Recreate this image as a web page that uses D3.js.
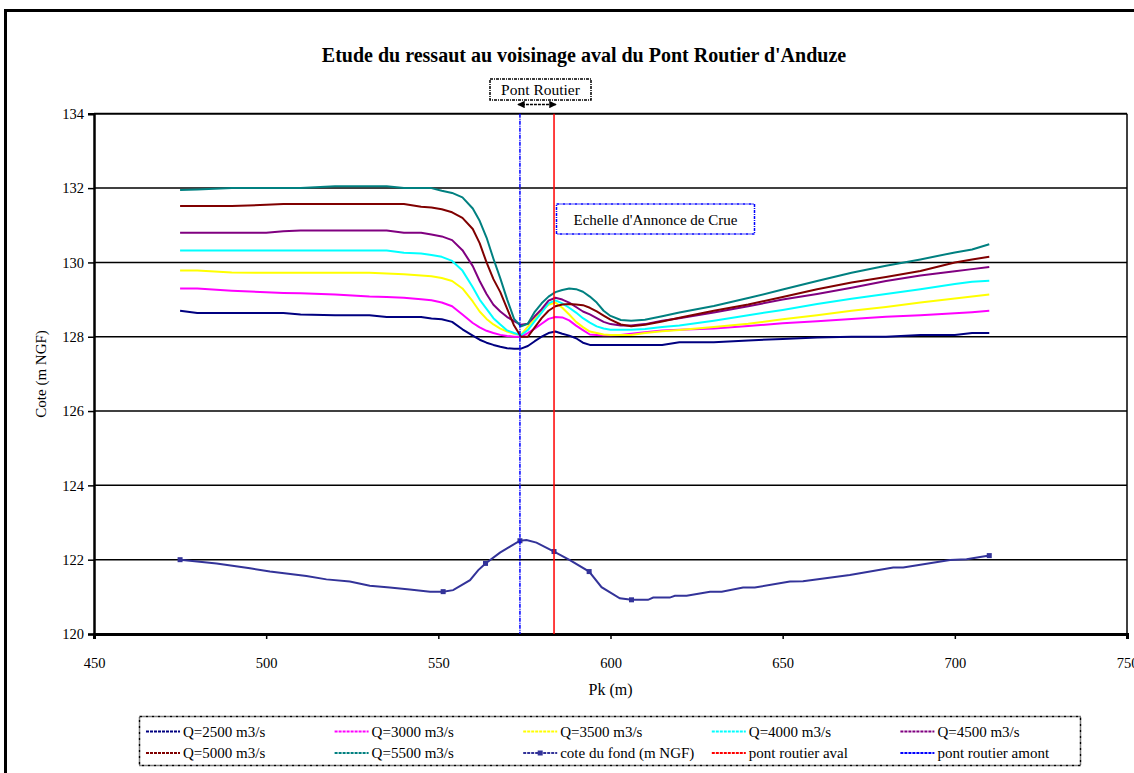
<!DOCTYPE html>
<html>
<head>
<meta charset="utf-8">
<script src="https://cdn.jsdelivr.net/npm/d3@7"></script>
<style>
  html, body { margin: 0; padding: 0; background: #fff; }
  svg { display: block; }
  text { font-family: "Liberation Serif", "DejaVu Serif", serif; fill: #000; }
</style>
</head>
<body>
<svg id="chart" width="1134" height="773"></svg>
<script>
// Abscisses (Pk, m) des points de calcul de la ligne d'eau
const pk = [475, 480, 490, 500, 505, 510, 520, 530, 535, 540, 545, 548, 551, 554, 557, 560, 562, 564, 566, 568,
            570, 572, 574, 576, 578, 580, 582, 584, 586, 588, 590, 592, 594, 596, 598, 600, 603, 606, 610, 615,
            620, 630, 640, 650, 660, 670, 680, 690, 700, 705, 710];

// Lignes d'eau (m NGF) par débit
const q2500 = [128.70, 128.64, 128.64, 128.64, 128.64, 128.60, 128.58, 128.58, 128.53, 128.53, 128.53, 128.49, 128.47, 128.40, 128.20, 128.03, 127.92, 127.84, 127.78, 127.73,
               127.69, 127.68, 127.68, 127.75, 127.88, 128.00, 128.10, 128.14, 128.08, 128.03, 127.96, 127.84, 127.78, 127.78, 127.78, 127.78, 127.78, 127.78, 127.78, 127.78,
               127.85, 127.85, 127.90, 127.94, 127.98, 128.00, 128.00, 128.05, 128.05, 128.10, 128.10];
const q3000 = [129.30, 129.30, 129.24, 129.20, 129.18, 129.17, 129.14, 129.08, 129.07, 129.05, 129.01, 128.98, 128.92, 128.82, 128.60, 128.37, 128.25, 128.16, 128.10, 128.05,
               128.02, 128.00, 128.00, 128.10, 128.22, 128.35, 128.48, 128.53, 128.52, 128.44, 128.30, 128.18, 128.06, 128.05, 128.04, 128.04, 128.05, 128.08, 128.12, 128.17,
               128.19, 128.22, 128.29, 128.36, 128.42, 128.48, 128.54, 128.58, 128.63, 128.66, 128.70];
const q3500 = [129.78, 129.78, 129.73, 129.72, 129.72, 129.72, 129.72, 129.72, 129.70, 129.68, 129.65, 129.63, 129.58, 129.50, 129.30, 128.95, 128.68, 128.48, 128.33, 128.22,
               128.14, 128.08, 128.05, 128.27, 128.48, 128.70, 128.86, 128.92, 128.78, 128.60, 128.40, 128.26, 128.14, 128.10, 128.06, 128.05, 128.05, 128.05, 128.10, 128.15,
               128.18, 128.26, 128.35, 128.47, 128.58, 128.70, 128.80, 128.92, 129.03, 129.08, 129.14];
const q4000 = [130.32, 130.32, 130.32, 130.32, 130.32, 130.32, 130.32, 130.32, 130.32, 130.26, 130.24, 130.20, 130.15, 130.04, 129.78, 129.33, 129.00, 128.75, 128.50, 128.33,
               128.17, 128.10, 128.04, 128.18, 128.42, 128.65, 128.90, 128.98, 128.90, 128.78, 128.65, 128.50, 128.38, 128.28, 128.22, 128.19, 128.19, 128.19, 128.21, 128.26,
               128.30, 128.43, 128.58, 128.72, 128.88, 129.02, 129.15, 129.28, 129.42, 129.48, 129.51];
const q4500 = [130.80, 130.80, 130.80, 130.80, 130.84, 130.86, 130.86, 130.86, 130.86, 130.80, 130.80, 130.75, 130.70, 130.60, 130.33, 129.90, 129.50, 129.15, 128.86, 128.68,
               128.53, 128.42, 128.32, 128.35, 128.55, 128.74, 128.97, 129.05, 129.00, 128.92, 128.80, 128.68, 128.60, 128.50, 128.40, 128.34, 128.30, 128.30, 128.34, 128.43,
               128.50, 128.65, 128.82, 129.00, 129.15, 129.32, 129.50, 129.65, 129.76, 129.82, 129.88];
const q5000 = [131.52, 131.52, 131.52, 131.55, 131.57, 131.57, 131.57, 131.57, 131.57, 131.57, 131.50, 131.48, 131.43, 131.35, 131.20, 130.90, 130.52, 130.00, 129.55, 129.20,
               128.75, 128.30, 128.00, 128.00, 128.25, 128.50, 128.70, 128.82, 128.87, 128.88, 128.87, 128.85, 128.78, 128.68, 128.57, 128.46, 128.33, 128.28, 128.32, 128.41,
               128.51, 128.70, 128.87, 129.07, 129.28, 129.46, 129.61, 129.77, 130.00, 130.08, 130.15];
const q5500 = [131.95, 131.96, 132.00, 132.00, 132.00, 132.00, 132.05, 132.05, 132.05, 132.00, 132.00, 132.00, 131.93, 131.87, 131.75, 131.45, 131.12, 130.67, 130.10, 129.57,
               129.00, 128.48, 128.28, 128.35, 128.67, 128.90, 129.08, 129.20, 129.26, 129.30, 129.28, 129.21, 129.08, 128.92, 128.70, 128.56, 128.45, 128.43, 128.46, 128.55,
               128.65, 128.83, 129.04, 129.27, 129.50, 129.72, 129.91, 130.08, 130.27, 130.35, 130.49];

// Profil en long du fond du lit
const pkFond = [475, 485.6, 495.3, 501.1, 511.7, 517.5, 524.3, 530.1, 535.9, 541.7, 547.6, 551.4, 554.3, 559.2, 561.6, 563.7,
                567.9, 570.8, 573.7, 575.6, 578.5, 583.6, 588.2, 593.8, 597.4, 602.7, 606.1, 610.9, 612.4, 617.2, 618.7, 622.1,
                628.9, 632.3, 638.5, 641.9, 652.1, 655.9, 669.5, 682.1, 685, 698.6, 703.4, 710];
const zFond = [122.00, 121.90, 121.77, 121.68, 121.56, 121.47, 121.41, 121.30, 121.25, 121.20, 121.14, 121.14, 121.18, 121.45, 121.72, 121.90,
               122.19, 122.35, 122.51, 122.53, 122.46, 122.22, 121.99, 121.68, 121.26, 120.96, 120.92, 120.92, 120.98, 120.98, 121.03, 121.03,
               121.14, 121.14, 121.25, 121.25, 121.41, 121.42, 121.59, 121.79, 121.79, 121.99, 122.01, 122.11];
// Profils relevés (points marqués)
const pkProfils = [475, 551.4, 563.7, 573.7, 583.6, 593.8, 606.1, 710];

// Position des ponts
const pkPontAmont = 573.7;
const pkPontAval = 583.6;

// Axes
const xTicks = [450, 500, 550, 600, 650, 700, 750];
const yTicks = [120, 122, 124, 126, 128, 130, 132, 134];

const legendLabels = ["Q=2500 m3/s", "Q=3000 m3/s", "Q=3500 m3/s", "Q=4000 m3/s", "Q=4500 m3/s",
                      "Q=5000 m3/s", "Q=5500 m3/s", "cote du fond (m NGF)", "pont routier aval", "pont routier amont"];

const waterSeries = [
  { label: legendLabels[0], values: q2500, color: "#000080" },
  { label: legendLabels[1], values: q3000, color: "#FF00FF" },
  { label: legendLabels[2], values: q3500, color: "#FFFF00" },
  { label: legendLabels[3], values: q4000, color: "#00FFFF" },
  { label: legendLabels[4], values: q4500, color: "#800080" },
  { label: legendLabels[5], values: q5000, color: "#800000" },
  { label: legendLabels[6], values: q5500, color: "#008080" }
];
const fondColor = "#333399";

const svg = d3.select("#chart");

// Cadre général
svg.append("rect")
  .attr("x", 5.5).attr("y", 10.5).attr("width", 1140).attr("height", 780)
  .attr("fill", "none").attr("stroke", "#000").attr("stroke-width", 3);

const x = d3.scaleLinear().domain([450, 750]).range([94, 1127]);
const y = d3.scaleLinear().domain([120, 134]).range([634, 113.8]);

// Quadrillage horizontal
svg.append("g")
  .selectAll("line")
  .data(yTicks.filter(v => v > 120))
  .join("line")
  .attr("x1", x(450)).attr("x2", x(750))
  .attr("y1", d => y(d)).attr("y2", d => y(d))
  .attr("stroke", "#000").attr("stroke-width", d => d === 134 ? 2 : 1.5);

// Bord droit de la zone de tracé
svg.append("line")
  .attr("x1", x(750)).attr("x2", x(750)).attr("y1", y(134)).attr("y2", y(120))
  .attr("stroke", "#000").attr("stroke-width", 1.5);

// Axe Y
const yAxis = svg.append("g")
  .attr("transform", `translate(${x(450)},0)`)
  .call(d3.axisLeft(y).tickValues(yTicks).tickSize(6).tickPadding(4).tickFormat(d3.format("d")));
yAxis.select(".domain").attr("stroke-width", 2.5);
yAxis.selectAll(".tick line").attr("stroke-width", 1.5);
yAxis.selectAll("text").style("font-size", "14.5px");

// Axe X
const xAxis = svg.append("g")
  .attr("transform", `translate(0,${y(120)})`)
  .call(d3.axisBottom(x).tickValues(xTicks).tickSize(5).tickPadding(19).tickFormat(d3.format("d")));
xAxis.select(".domain").attr("stroke-width", 3);
xAxis.selectAll(".tick line").attr("stroke-width", 1.5);
xAxis.selectAll("text").style("font-size", "14.5px");

// Titres d'axes
svg.append("text")
  .attr("x", x(600)).attr("y", 695)
  .attr("text-anchor", "middle").style("font-size", "16px")
  .text("Pk (m)");
svg.append("text")
  .attr("transform", `translate(46,${(y(120) + y(134)) / 2}) rotate(-90)`)
  .attr("text-anchor", "middle").style("font-size", "15px")
  .text("Cote (m NGF)");

// Titre
svg.append("text")
  .attr("x", 584).attr("y", 62)
  .attr("text-anchor", "middle")
  .style("font-size", "20px").style("font-weight", "bold")
  .text("Etude du ressaut au voisinage aval du Pont Routier d'Anduze");

// Ligne d'eau par débit
const line = d3.line()
  .x((d, i) => x(pk[i]))
  .y(d => y(d));

svg.append("g")
  .selectAll("path")
  .data(waterSeries)
  .join("path")
  .attr("d", d => line(d.values))
  .attr("fill", "none")
  .attr("stroke", d => d.color)
  .attr("stroke-width", 2)
  .attr("stroke-linejoin", "round");

// Fond du lit
const fondLine = d3.line()
  .x((d, i) => x(pkFond[i]))
  .y(d => y(d));
svg.append("path")
  .attr("d", fondLine(zFond))
  .attr("fill", "none")
  .attr("stroke", fondColor)
  .attr("stroke-width", 2);

svg.append("g")
  .selectAll("rect")
  .data(pkProfils)
  .join("rect")
  .attr("x", d => x(d) - 2.5)
  .attr("y", d => y(zFond[pkFond.indexOf(d)]) - 2.5)
  .attr("width", 5).attr("height", 5)
  .attr("fill", fondColor);

// Ponts
svg.append("line")
  .attr("x1", x(pkPontAmont)).attr("x2", x(pkPontAmont))
  .attr("y1", y(134)).attr("y2", y(120))
  .attr("stroke", "#0000FF").attr("stroke-width", 1.5)
  .attr("stroke-dasharray", "4,1,1,1");
svg.append("line")
  .attr("x1", x(pkPontAval)).attr("x2", x(pkPontAval))
  .attr("y1", y(134)).attr("y2", y(120))
  .attr("stroke", "#FF0000").attr("stroke-width", 1.5);

// Étiquette "Pont Routier"
svg.append("rect")
  .attr("x", 490).attr("y", 79).attr("width", 101).attr("height", 21)
  .attr("fill", "#fff").attr("stroke", "#000").attr("stroke-width", 1.5)
  .attr("stroke-dasharray", "3,1,1,1");
svg.append("text")
  .attr("x", 540.5).attr("y", 95)
  .attr("text-anchor", "middle").style("font-size", "15.5px")
  .text("Pont Routier");

// Flèche entre les deux ponts
const defs = svg.append("defs");
defs.append("marker")
  .attr("id", "arrow").attr("viewBox", "0 0 10 10")
  .attr("refX", 9).attr("refY", 5)
  .attr("markerWidth", 5).attr("markerHeight", 5)
  .attr("orient", "auto-start-reverse")
  .append("path").attr("d", "M0,0 L10,5 L0,10 z").attr("fill", "#000");
svg.append("line")
  .attr("x1", x(pkPontAmont) - 2).attr("x2", x(pkPontAval) + 2)
  .attr("y1", 104.5).attr("y2", 104.5)
  .attr("stroke", "#000").attr("stroke-width", 1.5)
  .attr("stroke-dasharray", "3,1")
  .attr("marker-start", "url(#arrow)").attr("marker-end", "url(#arrow)");

// Étiquette de l'échelle de crue
svg.append("rect")
  .attr("x", 556.5).attr("y", 204).attr("width", 198).attr("height", 30)
  .attr("fill", "#fff").attr("stroke", "#0000FF").attr("stroke-width", 1.5)
  .attr("stroke-dasharray", "3,1,1,1");
svg.append("text")
  .attr("x", 655.5).attr("y", 224.5)
  .attr("text-anchor", "middle").style("font-size", "15px")
  .text("Echelle d'Annonce de Crue");

// Légende
const legendItems = [
  ...waterSeries.map(s => ({ label: s.label, color: s.color, marker: false })),
  { label: legendLabels[7], color: fondColor, marker: true },
  { label: legendLabels[8], color: "#FF0000", marker: false },
  { label: legendLabels[9], color: "#0000FF", marker: false }
];

svg.append("rect")
  .attr("x", 139.5).attr("y", 716.5).attr("width", 941).attr("height", 49)
  .attr("fill", "#fff").attr("stroke", "#000").attr("stroke-width", 1.5)
  .attr("stroke-dasharray", "3,1,1,1");

const lg = svg.append("g")
  .selectAll("g")
  .data(legendItems)
  .join("g")
  .attr("transform", (d, i) => `translate(${146 + (i % 5) * 188.6},${i < 5 ? 731.5 : 753})`);
lg.append("line")
  .attr("x1", 0).attr("x2", 34).attr("y1", 0).attr("y2", 0)
  .attr("stroke", d => d.color).attr("stroke-width", 2)
  .attr("stroke-dasharray", "3,1");
lg.filter(d => d.marker).append("rect")
  .attr("x", 14.5).attr("y", -2.5).attr("width", 5).attr("height", 5)
  .attr("fill", d => d.color);
lg.append("text")
  .attr("x", 37).attr("y", 5)
  .style("font-size", "15px")
  .text(d => d.label);
</script>
</body>
</html>
